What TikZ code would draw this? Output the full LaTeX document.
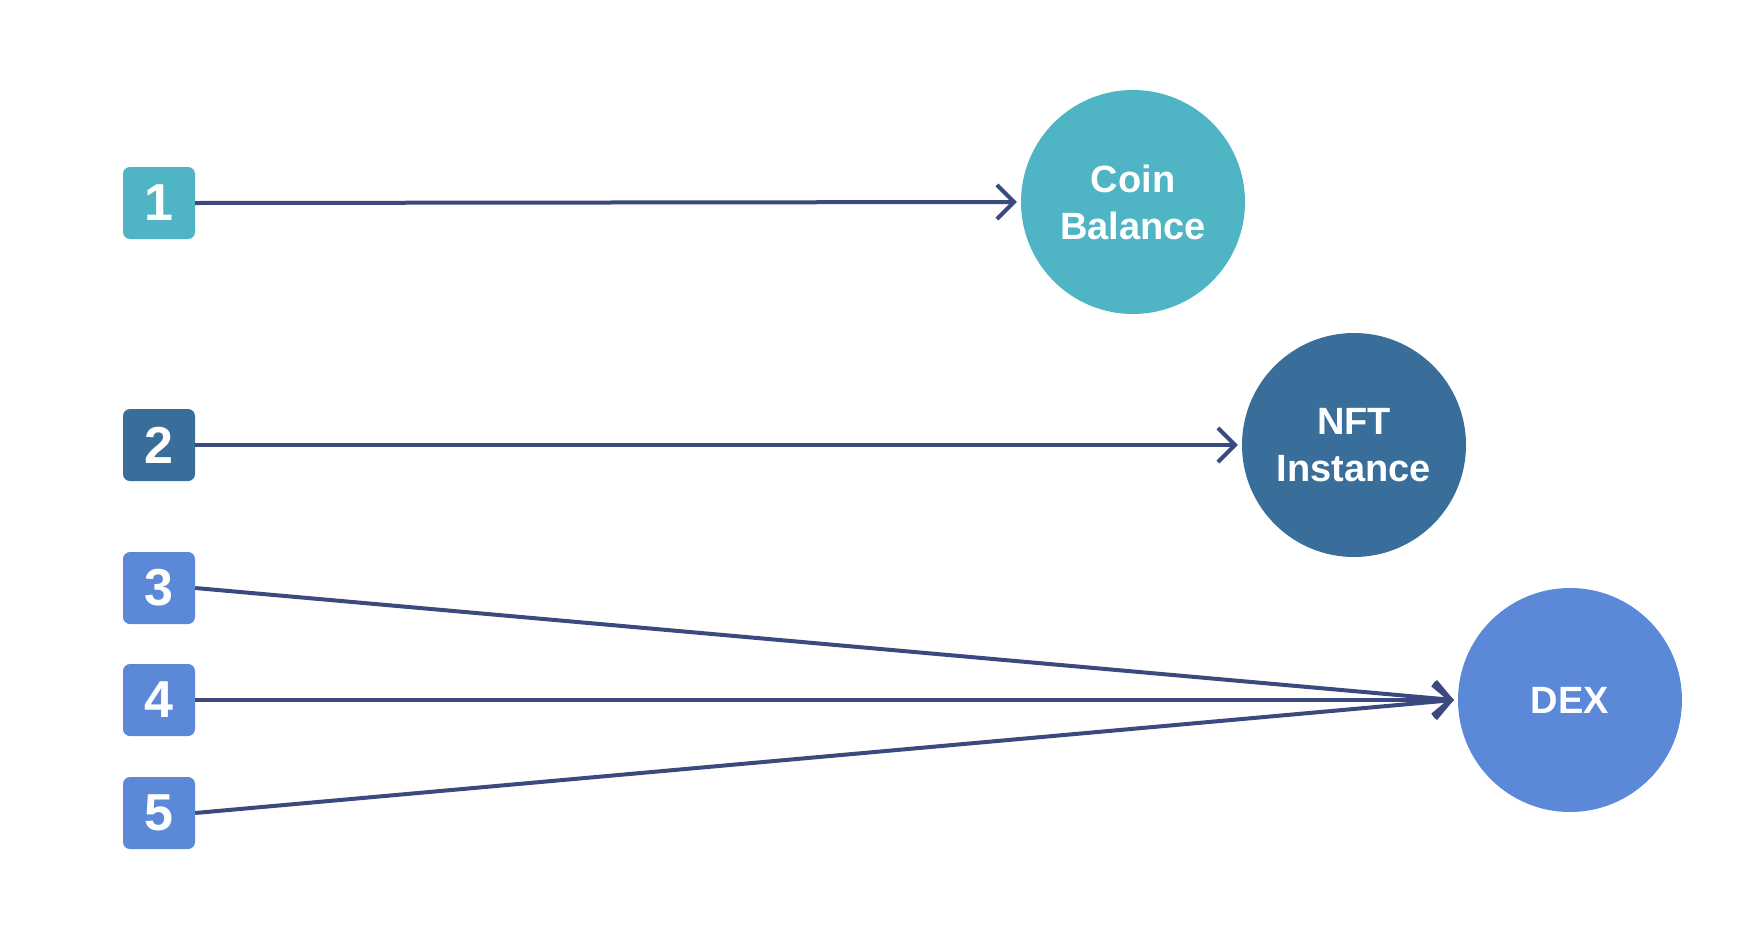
\documentclass[tikz,border=0pt]{standalone}
\usepackage{fontspec}
\setmainfont{Liberation Sans}
\usetikzlibrary{arrows.meta}
\definecolor{cteal}{HTML}{4FB4C3}
\definecolor{cnft}{HTML}{3A6E9A}
\definecolor{cdex}{HTML}{5B89D8}
\definecolor{carrow}{HTML}{3B4A7E}
\tikzset{
  numbox/.style={rounded corners=7pt, minimum width=72pt, minimum height=72pt, inner sep=0pt,
    text=white, font=\fontsize{52}{52}\selectfont\bfseries},
  bigcircle/.style={circle, minimum size=224pt, inner sep=0pt, text=white, align=center,
    font=\fontsize{38}{47}\selectfont\bfseries},
  conn/.style={draw=carrow, line width=4pt, -{Straight Barb[length=17pt,width=34pt,line width=4pt]}}
}
\begin{document}
\begin{tikzpicture}[x=1pt,y=-1pt]
\useasboundingbox[fill=white] (0,0) rectangle (1738,938);
\node[numbox, fill=cteal] (b1) at (159,203) {1};
\node[numbox, fill=cnft] (b2) at (159,445) {2};
\node[numbox, fill=cdex] (b3) at (159,588) {3};
\node[numbox, fill=cdex] (b4) at (159,700) {4};
\node[numbox, fill=cdex] (b5) at (159,813) {5};
\node[bigcircle, fill=cteal] (coin) at (1133,202) {Coin\\Balance};
\node[bigcircle, fill=cnft] (nft) at (1354,445) {NFT\\Instance};
\node[bigcircle, fill=cdex] (dex) at (1570,700) {DEX};
\coordinate (dexin) at ([xshift=-4pt]dex.west);
\draw[conn] (b1.east) -- ([xshift=-4pt]coin.west);
\draw[conn] (b2.east) -- ([xshift=-4pt]nft.west);
\draw[conn] (b3.east) -- (dexin);
\draw[conn] (b4.east) -- (dexin);
\draw[conn] (b5.east) -- (dexin);
\end{tikzpicture}
\end{document}
